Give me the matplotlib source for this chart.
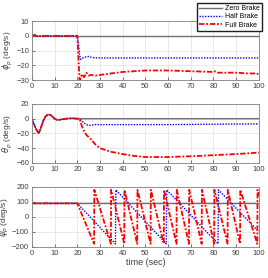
import numpy as np
import matplotlib
matplotlib.use("Agg")
import matplotlib.pyplot as plt

plt.rcParams['font.family'] = ['Liberation Sans', 'DejaVu Sans']
plt.rcParams['font.size'] = 6

# --- roll rate (phi_p) ---
t_phi_zero = [0, 100]
phi_zero = [0, 0]
t_phi_half = [0, 0.5, 1, 1.5, 2, 20, 20.5, 21, 21.5, 22, 23, 25, 27, 30, 100]
phi_half = [0, 0.8, 1, 0.5, 0, 0, -5, -13, -16, -15.5, -14.5, -14, -14.8, -15, -15]
t_phi_full = [0, 1, 2, 20, 20.5, 21, 21.5, 22, 23, 24, 25, 26, 28, 30, 40, 50, 60,
              70, 80, 81, 82, 90, 95, 98, 99, 100]
phi_full = [0, 0.5, 0, 0, -15, -30, -29, -26, -28, -25, -27, -26.5, -27, -26.5, -24.5,
            -23.5, -23.5, -24, -24.5, -24, -25, -25, -25.5, -25.5, -26, -25.5]

# --- pitch rate (theta_p) ---
t_th0 = [0, 0.5, 1, 2, 3, 4, 5, 6, 7, 8, 9, 10, 11, 12, 14, 16, 18, 20, 21]
th0 = [0, -5, -8, -15, -20, -12, -3, 3, 5.5, 5.5, 3, 0, -1.5, -1.5, -0.5, 0.3, 0.5, 0, 0]
t_th_zero = t_th0 + [100]
th_zero = th0 + [0]
t_th_half = t_th0 + [22, 23, 24, 25, 26, 28, 40, 60, 80, 100]
th_half = th0 + [-3, -6, -8, -9, -9, -8, -8, -8, -7.5, -7]
t_th_full = t_th0 + [22, 23, 24, 25, 26, 28, 30, 35, 40, 45, 50, 60, 70, 80, 90, 100]
th_full = th0 + [-10, -17, -22, -25, -28, -35, -40, -45, -48, -50.5, -52, -52, -51,
                 -49.5, -48, -46]

# --- yaw (psi_p) ---
t_psi_zero = [0, 100]
psi_zero = [90, 90]
t_psi_half = [0, 20, 36.8, 37.0, 59.2, 59.4, 82.0, 82.2, 100]
psi_half = [90, 90, -180, 180, -180, 180, -180, 180, -100]
t_psi_full = [0, 20, 27.4, 27.5, 34.8, 34.9, 40.7, 40.8, 46.4, 46.5, 52.3, 52.4,
              58.1, 58.2, 63.7, 63.8, 69.2, 69.3, 74.8, 74.9, 80.3, 80.4, 86.2, 86.3,
              91.7, 91.8, 99.3, 99.4, 100]
psi_full = [90, 90, -180, 180, -180, 180, -180, 180, -180, 180, -180, 180,
            -180, 180, -180, 180, -180, 180, -180, 180, -180, 180, -180, 180,
            -180, 180, -180, 180, 142]

labels = ['Zero Brake', 'Half Brake', 'Full Brake']
ylabels = [r'$\dot{\phi}_p$ (deg/s)', r'$\dot{\theta}_p$ (deg/s)', r'$\psi_p$ (deg/s)']
ylims = [(-30, 10), (-60, 20), (-200, 200)]
yticks = [[-30, -20, -10, 0, 10], [-60, -40, -20, 0, 20], [-200, -100, 0, 100, 200]]

series = [
    [(t_phi_zero, phi_zero), (t_phi_half, phi_half), (t_phi_full, phi_full)],
    [(t_th_zero, th_zero), (t_th_half, th_half), (t_th_full, th_full)],
    [(t_psi_zero, psi_zero), (t_psi_half, psi_half), (t_psi_full, psi_full)],
]

fig = plt.figure(figsize=(2.68, 2.78), dpi=100)
rects = [[0.119, 0.712, 0.847, 0.212],
         [0.119, 0.414, 0.847, 0.212],
         [0.119, 0.112, 0.847, 0.216]]

handles = []
for i, r in enumerate(rects):
    ax = fig.add_axes(r)
    (tz, yz), (th, yh), (tf, yf) = series[i]
    h0, = ax.plot(tz, yz, color='#707070', lw=1.0)
    h1, = ax.plot(th, yh, color='#0000ff', lw=1.0, ls=(0, (1, 1)))
    h2, = ax.plot(tf, yf, color='#ff0000', lw=1.3, ls=(0, (3, 1, 1, 1)))
    if i == 0:
        handles = [h0, h1, h2]
    ax.set_xlim(0, 100)
    ax.set_ylim(*ylims[i])
    ax.set_xticks(range(0, 101, 10))
    ax.set_yticks(yticks[i])
    ax.grid(True, color='#e0e0e0', lw=0.5)
    ax.set_axisbelow(True)
    ax.tick_params(direction='in', length=2, width=0.5, colors='#404040',
                   labelsize=5.5, pad=2)
    for s in ax.spines.values():
        s.set_color('#808080')
        s.set_linewidth(0.6)
    ax.set_ylabel(ylabels[i], fontsize=6, color='#404040', labelpad=1)
    if i == 2:
        ax.set_xlabel('time (sec)', fontsize=6.5, color='#404040', labelpad=1)

fig.legend(handles, labels, loc='upper left', bbox_to_anchor=(0.735, 0.988),
           fontsize=5, frameon=True, fancybox=False, edgecolor='#202020',
           borderpad=0.3, labelspacing=0.15, handlelength=3.3, handletextpad=0.4,
           borderaxespad=0, framealpha=1)

fig.savefig('out.png', dpi=100)
